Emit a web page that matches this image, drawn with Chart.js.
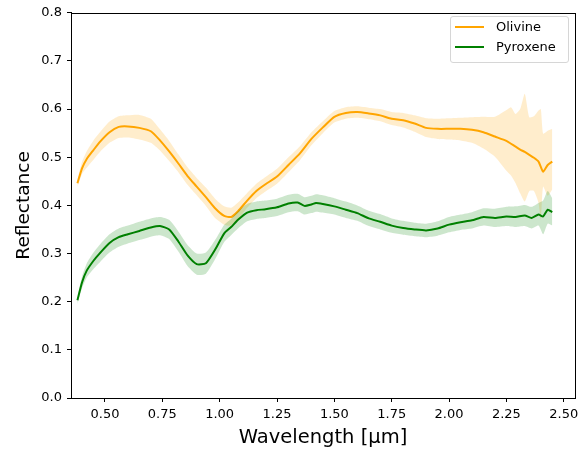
<!DOCTYPE html>
<html>
<head>
<meta charset="utf-8">
<script src="https://cdn.jsdelivr.net/npm/chart.js@4/dist/chart.umd.min.js"></script>
<style>
  body { margin: 0; background: #fff; font-family: "DejaVu Sans", sans-serif; }
  #wrap { position: relative; width: 587px; height: 450px; }
  #legend {
    position: absolute; left: 450px; top: 16px; width: 117px; height: 45px;
    border: 1px solid #d6d6d6; border-radius: 3px; background: rgba(255,255,255,0.8);
    font-size: 13px; color: #000;
  }
  .entry { position: absolute; left: 0; height: 16px; line-height: 16px; }
  .entry span.ln { position: absolute; left: 4px; top: 7px; width: 29px; height: 2px; }
  .entry span.tx { position: absolute; left: 45px; top: 0; white-space: nowrap; }
</style>
</head>
<body>
<div id="wrap">
  <canvas id="chart" width="587" height="450"></canvas>
  <div id="legend">
    <div class="entry" style="top:2px"><span class="ln" style="background:#ffa500"></span><span class="tx">Olivine</span></div>
    <div class="entry" style="top:22px"><span class="ln" style="background:#008000"></span><span class="tx">Pyroxene</span></div>
  </div>
</div>
<script>
// reflectance spectra, values

const olivineWavelength = [0.38, 0.40, 0.42, 0.45, 0.48, 0.52, 0.56, 0.60, 0.65, 0.70, 0.74, 0.78, 0.82, 0.86, 0.90, 0.94, 0.98, 1.02, 1.05, 1.08,
  1.12, 1.16, 1.20, 1.25, 1.30, 1.35, 1.40, 1.45, 1.50, 1.55, 1.60, 1.65, 1.70, 1.75, 1.80, 1.85, 1.90, 1.95, 2.00, 2.05,
  2.10, 2.15, 2.20, 2.25, 2.27, 2.29, 2.31, 2.33, 2.35, 2.37, 2.39, 2.40, 2.41, 2.43, 2.45];
const olivineMean = [0.446, 0.477, 0.496, 0.515, 0.533, 0.552, 0.563, 0.564, 0.561, 0.554, 0.535, 0.512, 0.487, 0.461, 0.439, 0.417, 0.394, 0.378, 0.376, 0.388,
  0.410, 0.430, 0.444, 0.460, 0.484, 0.508, 0.538, 0.562, 0.584, 0.592, 0.594, 0.591, 0.587, 0.580, 0.577, 0.570, 0.561, 0.559, 0.559, 0.559,
  0.557, 0.552, 0.543, 0.534, 0.528, 0.522, 0.516, 0.511, 0.505, 0.499, 0.491, 0.480, 0.470, 0.484, 0.491];
const olivineLow = [0.438, 0.465, 0.478, 0.495, 0.512, 0.530, 0.540, 0.541, 0.537, 0.530, 0.514, 0.492, 0.469, 0.443, 0.421, 0.399, 0.374, 0.360, 0.358, 0.371,
  0.395, 0.415, 0.429, 0.445, 0.469, 0.494, 0.525, 0.550, 0.572, 0.580, 0.582, 0.579, 0.575, 0.567, 0.562, 0.553, 0.542, 0.538, 0.537, 0.535,
  0.530, 0.518, 0.501, 0.472, 0.462, 0.446, 0.425, 0.408, 0.430, 0.430, 0.405, 0.370, 0.439, 0.420, 0.433];
const olivineHigh = [0.454, 0.490, 0.512, 0.535, 0.553, 0.574, 0.585, 0.587, 0.588, 0.580, 0.558, 0.534, 0.506, 0.479, 0.457, 0.437, 0.414, 0.398, 0.395, 0.406,
  0.426, 0.445, 0.459, 0.476, 0.500, 0.523, 0.552, 0.575, 0.596, 0.604, 0.606, 0.603, 0.600, 0.594, 0.592, 0.587, 0.581, 0.580, 0.581, 0.582,
  0.583, 0.584, 0.584, 0.598, 0.604, 0.590, 0.600, 0.632, 0.583, 0.585, 0.597, 0.600, 0.549, 0.555, 0.559];

const pyroxeneWavelength = [0.38, 0.40, 0.42, 0.45, 0.48, 0.52, 0.56, 0.60, 0.65, 0.70, 0.74, 0.78, 0.82, 0.86, 0.90, 0.94, 0.98, 1.02, 1.05, 1.08,
  1.12, 1.16, 1.20, 1.25, 1.30, 1.34, 1.37, 1.40, 1.42, 1.45, 1.50, 1.55, 1.60, 1.65, 1.70, 1.75, 1.80, 1.85, 1.90, 1.95,
  2.00, 2.05, 2.10, 2.15, 2.20, 2.25, 2.29, 2.33, 2.36, 2.39, 2.41, 2.43, 2.45];
const pyroxeneMean = [0.203, 0.240, 0.264, 0.285, 0.302, 0.322, 0.334, 0.340, 0.347, 0.354, 0.357, 0.350, 0.325, 0.296, 0.278, 0.280, 0.308, 0.342, 0.355, 0.370,
  0.385, 0.390, 0.392, 0.396, 0.404, 0.406, 0.399, 0.402, 0.405, 0.403, 0.398, 0.391, 0.384, 0.373, 0.366, 0.358, 0.353, 0.350, 0.348, 0.352,
  0.360, 0.365, 0.369, 0.376, 0.374, 0.377, 0.376, 0.379, 0.374, 0.381, 0.377, 0.391, 0.386];
const pyroxeneLow = [0.195, 0.228, 0.250, 0.268, 0.283, 0.302, 0.314, 0.321, 0.328, 0.335, 0.338, 0.330, 0.304, 0.274, 0.256, 0.258, 0.288, 0.324, 0.338, 0.352,
  0.367, 0.372, 0.374, 0.378, 0.386, 0.388, 0.381, 0.384, 0.387, 0.385, 0.381, 0.374, 0.368, 0.357, 0.350, 0.343, 0.339, 0.336, 0.334, 0.337,
  0.344, 0.349, 0.352, 0.358, 0.355, 0.357, 0.355, 0.357, 0.352, 0.358, 0.340, 0.362, 0.358];
const pyroxeneHigh = [0.212, 0.252, 0.279, 0.302, 0.320, 0.340, 0.352, 0.358, 0.366, 0.373, 0.376, 0.370, 0.346, 0.318, 0.300, 0.302, 0.328, 0.360, 0.372, 0.388,
  0.403, 0.408, 0.410, 0.414, 0.422, 0.424, 0.417, 0.420, 0.423, 0.421, 0.415, 0.408, 0.400, 0.389, 0.382, 0.373, 0.368, 0.364, 0.362, 0.367,
  0.376, 0.381, 0.386, 0.394, 0.393, 0.397, 0.398, 0.401, 0.397, 0.405, 0.410, 0.430, 0.415];

const xTickMin = 0.352;
const xTickMax = 2.549;

function points(xs, ys) {
  return xs.map((x, i) => ({ x: x, y: ys[i] }));
}

function band(data, color, fill, order) {
  return {
    data: data,
    borderWidth: 0,
    borderColor: "rgba(0,0,0,0)",
    backgroundColor: color,
    pointRadius: 0,
    fill: fill,
    tension: 0.2,
    order: order
  };
}

function meanLine(label, data, color, order) {
  return {
    label: label,
    data: data,
    borderColor: color,
    borderWidth: 2,
    pointRadius: 0,
    fill: false,
    tension: 0.2,
    order: order
  };
}

// full box around the axes, like matplotlib spines
const frame = {
  id: "frame",
  afterDraw(chart) {
    const a = chart.chartArea;
    const ctx = chart.ctx;
    ctx.save();
    ctx.strokeStyle = "#000";
    ctx.lineWidth = 1;
    ctx.strokeRect(Math.round(a.left) + 0.5, Math.round(a.top) + 0.5, Math.round(a.right - a.left), Math.round(a.bottom - a.top));
    ctx.restore();
  }
};

const tickFont = { family: "DejaVu Sans", size: 13 };

new Chart(document.getElementById("chart").getContext("2d"), {
  type: "line",
  data: {
    datasets: [
      band(points(olivineWavelength, olivineLow), "rgba(255,165,0,0.2)", false, 6),
      band(points(olivineWavelength, olivineHigh), "rgba(255,165,0,0.2)", "-1", 5),
      meanLine("Olivine", points(olivineWavelength, olivineMean), "#ffa500", 4),
      band(points(pyroxeneWavelength, pyroxeneLow), "rgba(0,128,0,0.2)", false, 3),
      band(points(pyroxeneWavelength, pyroxeneHigh), "rgba(0,128,0,0.2)", "-1", 2),
      meanLine("Pyroxene", points(pyroxeneWavelength, pyroxeneMean), "#008000", 1)
    ]
  },
  options: {
    responsive: false,
    animation: false,
    layout: { padding: { left: 0, right: 12, top: 9, bottom: 0 } },
    plugins: {
      legend: { display: false },
      tooltip: { enabled: false }
    },
    scales: {
      x: {
        type: "linear",
        min: xTickMin,
        max: xTickMax,
        afterFit: (s) => { s.height = 52; },
        ticks: {
          stepSize: 0.25,
          includeBounds: false,
          color: "#000",
          font: tickFont,
          padding: 5,
          maxRotation: 0,
          callback: (v) => v.toFixed(2)
        },
        grid: { drawOnChartArea: false, tickLength: 4, color: "#000" },
        border: { color: "#000" },
        title: {
          display: true,
          text: "Wavelength [μm]",
          color: "#000",
          font: { family: "DejaVu Sans", size: 19.5 },
          padding: { top: 0, bottom: 0 }
        }
      },
      y: {
        min: 0,
        max: 0.8,
        afterFit: (s) => { s.width = 71; },
        ticks: {
          stepSize: 0.1,
          includeBounds: false,
          color: "#000",
          font: tickFont,
          padding: 5,
          callback: (v) => v.toFixed(1)
        },
        grid: { drawOnChartArea: false, tickLength: 4, color: "#000" },
        border: { color: "#000" },
        title: {
          display: true,
          text: "Reflectance",
          color: "#000",
          font: { family: "DejaVu Sans", size: 18.5 },
          padding: { top: 13, bottom: 0 }
        }
      }
    }
  },
  plugins: [frame]
});
</script>
</body>
</html>
